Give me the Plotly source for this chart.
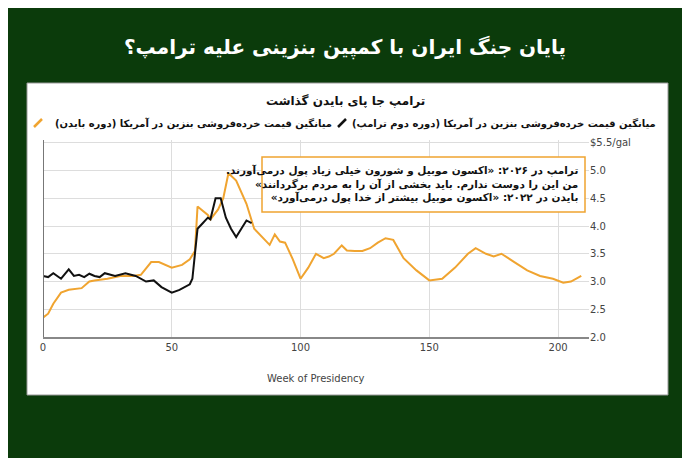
import plotly.graph_objects as go

# Biden term average US retail gasoline price ($/gal) by week of presidency
biden_weeks = [0, 2, 4, 7, 10, 15, 18, 20, 25, 30, 35, 38, 42, 45, 50, 54, 57, 59, 60, 62, 64, 65, 68, 70, 72, 75, 79, 82, 86, 88, 90,
               92, 94, 97, 100, 103, 106, 109, 111, 113, 116, 118, 121, 124, 127, 130, 133, 136, 140, 145, 150, 155, 160,
               165, 168, 172, 175, 178, 183, 188, 193, 198, 202, 205, 209]
biden_price = [2.35, 2.42, 2.6, 2.8, 2.85, 2.88, 3.0, 3.02, 3.05, 3.1, 3.1, 3.12, 3.35, 3.35, 3.25, 3.3, 3.4, 3.55, 4.35, 4.28, 4.2, 4.12, 4.3, 4.5, 4.95, 4.82, 4.4, 3.95, 3.75, 3.66, 3.85,
               3.72, 3.7, 3.4, 3.05, 3.25, 3.5, 3.42, 3.45, 3.5, 3.65, 3.56, 3.55, 3.55, 3.6, 3.7, 3.78, 3.75, 3.42, 3.2, 3.02, 3.05, 3.25,
               3.5, 3.6, 3.5, 3.45, 3.5, 3.35, 3.2, 3.1, 3.05, 2.98, 3.0, 3.1]

# Trump second term
trump_weeks = [0, 2, 4, 7, 10, 12, 14, 16, 18, 20, 22, 24, 28, 32, 36, 40, 43, 46, 50, 53, 57, 58, 59, 60, 62, 64, 65, 67, 69, 71, 73, 75, 77, 79, 81]
trump_price = [3.1, 3.08, 3.15, 3.05, 3.22, 3.1, 3.12, 3.08, 3.14, 3.1, 3.08, 3.15, 3.1, 3.15, 3.1, 3.0, 3.02, 2.9, 2.8, 2.85, 2.95, 3.05, 3.5, 3.95, 4.05, 4.15, 4.12, 4.5, 4.5, 4.15, 3.95, 3.8, 3.95, 4.1, 4.05]

y_ticks = [2.0, 2.5, 3.0, 3.5, 4.0, 4.5, 5.0, 5.5]
y_labels = ["2.0", "2.5", "3.0", "3.5", "4.0", "4.5", "5.0", "$5.5/gal"]
x_ticks = [0, 50, 100, 150, 200]

ORANGE = "#f0a430"
FONT = "DejaVu Sans"
RLM = "\u200f"

fig = go.Figure()
fig.add_trace(go.Scatter(x=biden_weeks, y=biden_price, mode="lines",
                         line=dict(color=ORANGE, width=2), showlegend=False))
fig.add_trace(go.Scatter(x=trump_weeks, y=trump_price, mode="lines",
                         line=dict(color="#111111", width=2), showlegend=False))

# page is drawn with an 8px body offset, so size the figure to fit
OFF = 8
W, H = 690 - OFF, 458 - OFF
L, R, T, B = 43 - OFF, 101, 140 - OFF, 121


def px(x):
    return (x - OFF - L) / (W - L - R)


def py(y):
    return (H - B - (y - OFF)) / (H - T - B)


shapes = [
    dict(type="rect", xref="paper", yref="paper", x0=px(27), x1=px(668), y0=py(395), y1=py(83),
         fillcolor="white", line=dict(color="#999999", width=1), layer="below"),
    dict(type="rect", xref="paper", yref="paper", x0=px(262), x1=px(585), y0=py(212), y1=py(157),
         fillcolor="white", line=dict(color=ORANGE, width=1.5), layer="above"),
    dict(type="line", xref="paper", yref="paper", x0=px(34), x1=px(42), y0=py(127), y1=py(119),
         line=dict(color=ORANGE, width=2.5)),
    dict(type="line", xref="paper", yref="paper", x0=px(338), x1=px(346), y0=py(127), y1=py(119),
         line=dict(color="#111111", width=2.5)),
]

annotations = [
    dict(text="<b>پایان جنگ ایران با کمپین بنزینی علیه ترامپ؟</b>", x=px(345), xanchor="center",
         y=py(48), yanchor="middle", font=dict(size=20, color="white", family=FONT)),
    dict(text="<b>ترامپ جا پای بایدن گذاشت</b>", x=px(345), xanchor="center", y=py(101), yanchor="middle",
         font=dict(size=12, color="#111111", family=FONT)),
    dict(text="<b>میانگین قیمت خرده‌فروشی بنزین در آمریکا (دوره بایدن)" + RLM + "</b>", x=px(334), xanchor="right",
         y=py(123), yanchor="middle", font=dict(size=10, color="#111111", family=FONT)),
    dict(text="<b>میانگین قیمت خرده‌فروشی بنزین در آمریکا (دوره دوم ترامپ)" + RLM + "</b>", x=px(658), xanchor="right",
         y=py(123), yanchor="middle", font=dict(size=10, color="#111111", family=FONT)),
    dict(text="<b>ترامپ در ۲۰۲۶: «اکسون موبیل و شورون خیلی زیاد پول درمی‌آورند." + RLM + "<br>"
              "من این را دوست ندارم. باید بخشی از آن را به مردم برگردانند»" + RLM + "<br>"
              "بایدن در ۲۰۲۲: «اکسون موبیل بیشتر از خدا پول درمی‌آورد»" + RLM + "</b>",
         x=px(580), xanchor="right", y=py(184), yanchor="middle", align="right",
         font=dict(size=10.5, color="#111111", family=FONT)),
    dict(text="Week of Presidency", x=px(316), xanchor="center", y=py(378), yanchor="middle",
         font=dict(size=10, color="#444444", family=FONT)),
]
for a in annotations:
    a.update(xref="paper", yref="paper", showarrow=False)

fig.update_layout(
    width=W, height=H,
    margin=dict(l=L, r=R, t=T, b=B),
    paper_bgcolor="#0b3b0b",
    plot_bgcolor="white",
    shapes=shapes,
    annotations=annotations,
    xaxis=dict(range=[0, 212], tickvals=x_ticks, showgrid=True, gridcolor="#dddddd",
               zeroline=False, showline=True, linecolor="#888888", linewidth=1.5,
               tickfont=dict(size=10, color="#444444", family=FONT), ticks=""),
    yaxis=dict(range=[2.0, 5.55], side="right", tickvals=y_ticks, ticktext=y_labels,
               showgrid=True, gridcolor="#dddddd", zeroline=False,
               tickfont=dict(size=10, color="#444444", family=FONT), ticks=""),
)
fig.add_shape(type="line", xref="x", yref="y", x0=0, x1=0, y0=2.0, y1=5.55,
              line=dict(color="#777777", width=2))

fig.write_html("out.html")
